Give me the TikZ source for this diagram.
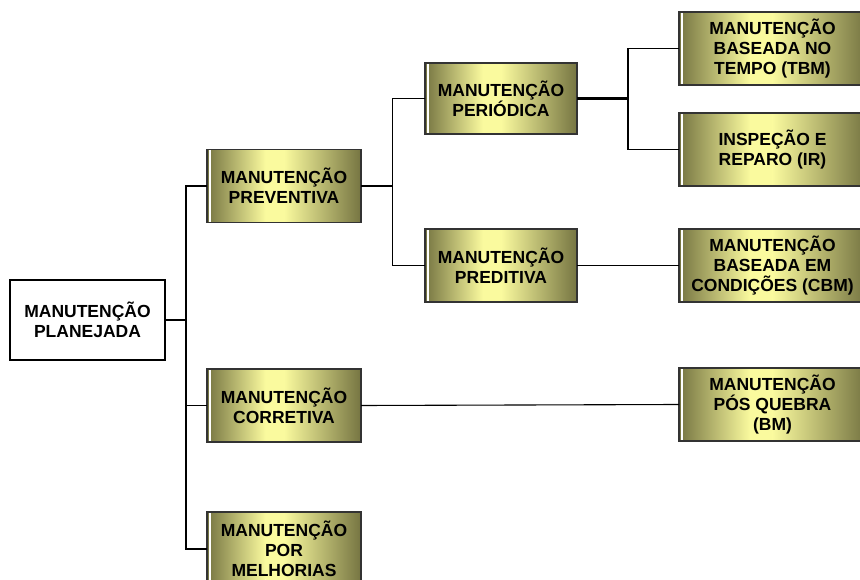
\documentclass[tikz,border=0pt]{standalone}
\usepackage{fontspec}
\setmainfont{Liberation Sans}
\usetikzlibrary{calc,backgrounds}
\definecolor{olv}{RGB}{118,117,66}
\definecolor{lyel}{RGB}{250,250,158}
\newcommand\olivefill[1]{%
  \shade[left color=olv, right color=lyel] (#1.south west) rectangle ($(#1.north west)!0.38!(#1.north east)$);
  \fill[lyel] ($(#1.south west)!0.38!(#1.south east)$) rectangle ($(#1.north west)!0.5!(#1.north east)$);
  \shade[left color=lyel, right color=olv] ($(#1.south west)!0.5!(#1.south east)$) rectangle (#1.north east);
  \draw[white, line width=2pt] ([xshift=3pt]#1.south west) -- ([xshift=3pt]#1.north west);}
\begin{document}
\begin{tikzpicture}[x=1pt,y=1pt,
  txt/.style={align=center, font=\bfseries\fontsize{17.5}{20}\selectfont, inner sep=0pt},
  box/.style={txt, draw=black!80, line width=1.1pt, outer sep=0pt,
    minimum width=154pt, minimum height=73pt},
  widebox/.style={box, minimum width=187pt},
  rootbox/.style={txt, draw=black, line width=2.4pt, fill=white, minimum width=155pt, minimum height=80pt},
  conn/.style={draw=black, line width=1.1pt},
  thickconn/.style={draw=black, line width=2.6pt}]
\useasboundingbox (0,0) rectangle (860,-580);
\clip (0,0) rectangle (860,-580);

\node[rootbox] (plan) at (87.5,-320) {MANUTENÇÃO\\PLANEJADA};
\node[box] (prev) at (284,-186) {MANUTENÇÃO\\PREVENTIVA};
\node[box] (corr) at (284,-405.5) {MANUTENÇÃO\\CORRETIVA};
\node[box, minimum height=74pt] (melh) at (284,-549) {MANUTENÇÃO\\POR\\MELHORIAS};
\node[box, minimum width=152pt, minimum height=71pt] (peri) at (501,-98.5) {MANUTENÇÃO\\PERIÓDICA};
\node[box, minimum width=152pt] (pred) at (501,-265.5) {MANUTENÇÃO\\PREDITIVA};
\node[widebox] (tbm) at (772.5,-48.5) {MANUTENÇÃO\\BASEADA NO\\TEMPO (TBM)};
\node[widebox] (ir) at (772.5,-149.5) {INSPEÇÃO E\\REPARO (IR)};
\node[widebox] (cbm) at (772.5,-265.5) {MANUTENÇÃO\\BASEADA EM\\CONDIÇÕES (CBM)};
\node[widebox] (bm) at (772.5,-404.5) {MANUTENÇÃO\\PÓS QUEBRA\\(BM)};

\begin{scope}[on background layer]
  \fill[white] (0,0) rectangle (860,-580);
  \olivefill{prev}
  \olivefill{corr}
  \olivefill{melh}
  \olivefill{peri}
  \olivefill{pred}
  \olivefill{tbm}
  \olivefill{ir}
  \olivefill{cbm}
  \olivefill{bm}
\end{scope}

\coordinate (j1) at (186,-320);
\coordinate (j2) at (392.5,-186);
\coordinate (j3) at (628,-98.5);

\draw[conn] (plan.east) -- (j1);
\draw[conn] (j1) |- (prev.west);
\draw[conn] (j1) |- (corr.west);
\draw[conn] (j1) |- (melh.west);
\draw[conn] (prev.east) -- (j2);
\draw[conn] (j2) |- (peri.west);
\draw[conn] (j2) |- (pred.west);
\draw[thickconn] (peri.east) -- (j3);
\draw[conn] (j3) |- (tbm.west);
\draw[conn] (j3) |- (ir.west);
\draw[conn] (pred.east) -- (cbm.west);
\draw[conn] (corr.east) -- (bm.west);
\end{tikzpicture}
\end{document}
